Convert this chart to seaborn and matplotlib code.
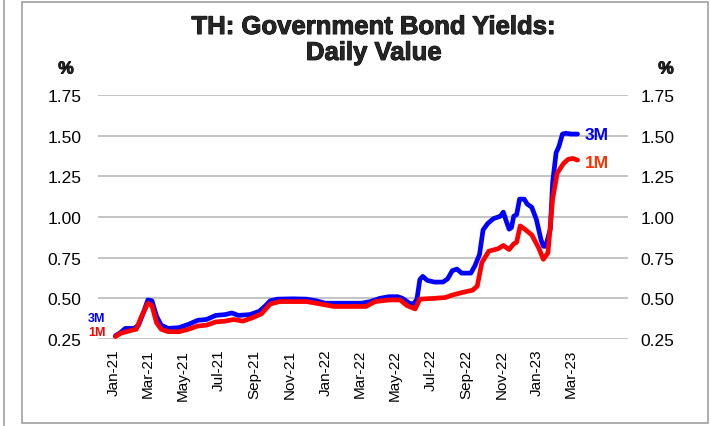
import matplotlib
matplotlib.use("Agg")
import matplotlib.pyplot as plt
import matplotlib.dates as mdates
import matplotlib.patheffects as pe
from matplotlib.patches import Rectangle
import seaborn as sns
import pandas as pd

# ---------------- data ----------------
dates_3m = ["2021-01-04","2021-01-13","2021-01-21","2021-02-05","2021-02-13","2021-02-21","2021-03-01",
            "2021-03-08","2021-03-16","2021-03-24","2021-04-05","2021-04-24","2021-05-10","2021-05-26",
            "2021-06-10","2021-06-26","2021-07-12","2021-07-24","2021-08-04","2021-08-24","2021-09-09",
            "2021-09-20","2021-09-28","2021-10-10","2021-11-06","2021-11-30","2021-12-16","2022-01-01",
            "2022-02-01","2022-03-04","2022-03-20","2022-04-05","2022-04-21","2022-05-06","2022-05-14",
            "2022-05-26","2022-06-02","2022-06-08","2022-06-13","2022-06-18","2022-06-26","2022-07-08",
            "2022-07-23","2022-07-31","2022-08-08","2022-08-16","2022-08-24","2022-09-09","2022-09-16",
            "2022-09-24","2022-09-30","2022-10-08","2022-10-18","2022-10-26","2022-10-30","2022-11-04",
            "2022-11-09","2022-11-14","2022-11-18","2022-11-22","2022-11-27","2022-12-02","2022-12-10",
            "2022-12-15","2022-12-23","2022-12-31","2023-01-08","2023-01-12","2023-01-16","2023-01-24",
            "2023-01-28","2023-02-03","2023-02-08","2023-02-14","2023-02-20","2023-02-28","2023-03-12"]
values_3m = [0.27,0.29,0.315,0.315,0.335,0.41,0.49,0.485,0.39,0.335,0.315,0.32,0.34,0.365,0.37,0.395,
             0.40,0.41,0.395,0.40,0.42,0.455,0.485,0.495,0.497,0.495,0.485,0.47,0.47,0.47,0.48,0.50,
             0.51,0.51,0.50,0.47,0.465,0.495,0.615,0.635,0.61,0.60,0.60,0.62,0.67,0.68,0.655,0.655,
             0.70,0.77,0.92,0.96,0.99,1.0,1.005,1.03,0.975,0.925,0.935,1.005,1.015,1.11,1.11,1.08,
             1.06,0.985,0.86,0.82,0.82,0.925,1.21,1.395,1.435,1.51,1.515,1.51,1.51]

dates_1m = ["2021-01-04","2021-01-13","2021-01-28","2021-02-09","2021-02-17","2021-03-01","2021-03-08",
            "2021-03-16","2021-03-24","2021-04-05","2021-04-24","2021-05-10","2021-05-26","2021-06-10",
            "2021-06-26","2021-07-12","2021-07-27","2021-08-12","2021-08-28","2021-09-13","2021-09-28",
            "2021-10-14","2021-11-30","2021-12-16","2022-01-16","2022-02-16","2022-03-12","2022-03-28",
            "2022-04-21","2022-05-10","2022-05-22","2022-06-05","2022-06-13","2022-07-08","2022-07-27",
            "2022-08-08","2022-08-24","2022-09-12","2022-09-20","2022-09-28","2022-10-10","2022-10-26",
            "2022-11-04","2022-11-14","2022-11-22","2022-11-27","2022-12-03","2022-12-11","2022-12-23",
            "2023-01-04","2023-01-12","2023-01-20","2023-01-28","2023-02-05","2023-02-16","2023-02-24",
            "2023-03-04","2023-03-12"]
values_1m = [0.265,0.285,0.30,0.31,0.38,0.47,0.455,0.35,0.31,0.295,0.295,0.31,0.33,0.335,0.355,0.36,
             0.37,0.36,0.38,0.405,0.465,0.48,0.48,0.47,0.45,0.45,0.45,0.48,0.49,0.49,0.455,0.435,
             0.495,0.50,0.505,0.52,0.535,0.55,0.575,0.72,0.79,0.805,0.825,0.80,0.835,0.845,0.945,
             0.925,0.89,0.81,0.74,0.78,1.11,1.27,1.33,1.355,1.36,1.35]

series_names = ["3M", "1M"]
line_colors = {"3M": "#0000FF", "1M": "#FF0000"}
label_colors = {"3M": "#0000FF", "1M": "#FF3300"}
y_ticks = [0.25, 0.50, 0.75, 1.00, 1.25, 1.50, 1.75]
x_tick_dates = ["2021-01-01","2021-03-01","2021-05-01","2021-07-01","2021-09-01","2021-11-01",
                "2022-01-01","2022-03-01","2022-05-01","2022-07-01","2022-09-01","2022-11-01",
                "2023-01-01","2023-03-01"]
title_text = "TH: Government Bond Yields:\nDaily Value"
unit_text = "%"

df = pd.concat([
    pd.DataFrame({"date": pd.to_datetime(dates_3m), "value": values_3m, "series": "3M"}),
    pd.DataFrame({"date": pd.to_datetime(dates_1m), "value": values_1m, "series": "1M"}),
], ignore_index=True)

# ---------------- figure ----------------
sns.set_style("white")
plt.rcParams["font.family"] = ["Liberation Sans", "DejaVu Sans"]

W, H = 711, 427
fig = plt.figure(figsize=(W / 100, H / 100), dpi=100)
ax = fig.add_axes([98 / W, 1 - 340 / H, (628 - 98) / W, (340 - 96) / H])

sns.lineplot(data=df, x="date", y="value", hue="series", hue_order=series_names,
             palette=line_colors, linewidth=3.4, legend=False, ax=ax, zorder=3)

ax.set_ylim(0.25, 1.75)
ax.set_yticks(y_ticks)
ax.set_yticklabels([f"{v:.2f}" for v in y_ticks])
ax.set_xlim(pd.Timestamp("2020-12-05"), pd.Timestamp("2023-06-07"))
ax.set_xticks(pd.to_datetime(x_tick_dates))
ax.xaxis.set_major_formatter(mdates.DateFormatter("%b-%y"))
ax.set_xlabel("")
ax.set_ylabel("")

for s in ax.spines.values():
    s.set_visible(False)
ax.grid(axis="y", color="#B4B4B4", linewidth=1.1)
ax.grid(axis="x", visible=False)
ax.tick_params(axis="y", length=0, pad=12, labelsize=12.5, colors="black")
ax.tick_params(axis="x", length=0, pad=7, labelsize=11, labelrotation=90, colors="black")

ax2 = ax.twinx()
ax2.set_ylim(ax.get_ylim())
ax2.set_yticks(y_ticks)
ax2.set_yticklabels([f"{v:.2f}" for v in y_ticks])
for s in ax2.spines.values():
    s.set_visible(False)
ax2.tick_params(axis="y", length=0, pad=9, labelsize=12.5, colors="black")
ax2.grid(False)

# series labels at the end and start
for name, d, v, dy_end, dy_start in [("3M", dates_3m, values_3m, 0, 13),
                                      ("1M", dates_1m, values_1m, -2, 3)]:
    ax.annotate(name, xy=(pd.Timestamp(d[-1]), v[-1]), xytext=(5, dy_end),
                textcoords="offset points", ha="left", va="center",
                fontsize=12.5, fontweight="bold", color=label_colors[name])
    ax.annotate(name, xy=(pd.Timestamp(d[0]), v[0]), xytext=(-7, dy_start),
                textcoords="offset points", ha="right", va="center",
                fontsize=9, fontweight="bold", color=line_colors[name])

# title and units
heavy = [pe.withStroke(linewidth=0.7, foreground="black")]
fig.text(374 / W, 1 - 16 / H, title_text, ha="center", va="top", fontsize=18.5,
         fontweight="bold", linespacing=1.1, family="Liberation Sans", path_effects=heavy)
fig.text(66 / W, 1 - 70 / H, unit_text, ha="center", va="center", fontsize=12.5,
         fontweight="bold", family="Liberation Sans", path_effects=heavy)
fig.text(666 / W, 1 - 70 / H, unit_text, ha="center", va="center", fontsize=12.5,
         fontweight="bold", family="Liberation Sans", path_effects=heavy)

# chart frame
fig.patches.append(Rectangle((22 / W, 3 / H), (708 - 22) / W, (424 - 3) / H,
                             transform=fig.transFigure, fill=False, edgecolor="#A0A0A0",
                             linewidth=1.2))
fig.lines.append(plt.Line2D([4 / W, 4 / W], [0, 1], transform=fig.transFigure,
                            color="#A0A0A0", linewidth=1.2))

fig.savefig("out.png", dpi=100)
